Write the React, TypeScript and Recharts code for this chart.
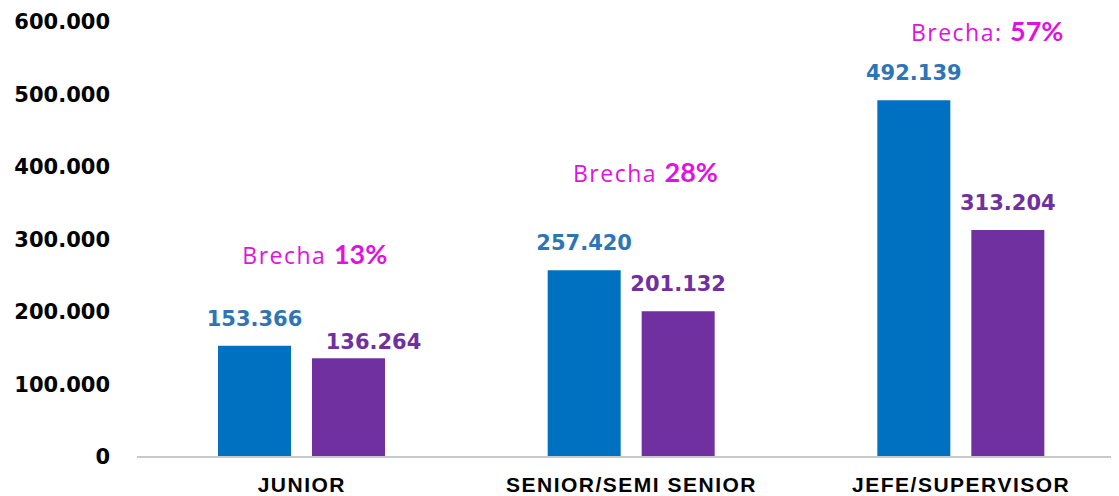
import React from 'react';
import { BarChart, Bar, XAxis, YAxis, LabelList, ReferenceDot } from 'recharts';

const categories = ['JUNIOR', 'SENIOR/SEMI SENIOR', 'JEFE/SUPERVISOR'];
const blueValues = [153366, 257420, 492139];
const purpleValues = [136264, 201132, 313204];
const gapPrefix = ['Brecha ', 'Brecha ', 'Brecha: '];
const gapValues = ['13%', '28%', '57%'];
const yTicks = [0, 100000, 200000, 300000, 400000, 500000, 600000];

const data = categories.map((name, i) => ({
  name,
  blue: blueValues[i],
  purple: purpleValues[i],
}));

const fmt = (n: number) => String(n).replace(/\B(?=(\d{3})+(?!\d))/g, '.');

const numFont = '"DejaVu Sans", sans-serif';

const ValueLabel = (color: string, shift: (i: number) => [number, number]) => (props: any) => {
  const { x, y, width, value, index } = props;
  const [dx, dy] = shift(index);
  return (
    <text
      x={x + width / 2 + dx}
      y={y - 20 + dy}
      textAnchor="middle"
      fill={color}
      fontFamily={numFont}
      fontWeight="bold"
      fontSize={21}
    >
      {fmt(value)}
    </text>
  );
};

const gapShape = (i: number, dx: number) => (props: any) => (
  <text x={props.cx + dx} y={props.cy} textAnchor="middle" fill="#DF13DF">
    <tspan fontFamily='"Open Sans", sans-serif' fontSize={23} letterSpacing={1.5}>
      {gapPrefix[i]}
    </tspan>
    <tspan fontFamily="Lato, sans-serif" fontSize={27} fontWeight="bold">
      {gapValues[i]}
    </tspan>
  </text>
);

export default function App() {
  return (
    <div style={{ width: 1111, height: 488, overflow: 'hidden' }}>
      <BarChart
        width={1120}
        height={488}
        data={data}
        margin={{ top: 14, right: 2, left: 0, bottom: 0 }}
        barSize={73}
        barGap={21}
      >
        <XAxis
          dataKey="name"
          height={39}
          tickLine={false}
          tickSize={0}
          tickMargin={20}
          axisLine={{ stroke: '#C8C8C8', strokeWidth: 2 }}
          tick={{
            fill: '#000',
            fontFamily: '"Liberation Sans", Arial, sans-serif',
            fontWeight: 'bold',
            fontSize: 21,
            letterSpacing: 1.5,
          }}
        />
        <YAxis
          width={129}
          domain={[0, 600000]}
          ticks={yTicks}
          interval={0}
          axisLine={false}
          tickLine={false}
          tickSize={0}
          tickMargin={27}
          tickFormatter={fmt}
          tick={{ fill: '#000', fontFamily: numFont, fontWeight: 'bold', fontSize: 21 }}
        />
        <Bar dataKey="blue" fill="#0070C0" isAnimationActive={false}>
          <LabelList dataKey="blue" content={ValueLabel('#2E75B6', () => [0, 0])} />
        </Bar>
        <Bar dataKey="purple" fill="#7030A0" isAnimationActive={false}>
          <LabelList
            dataKey="purple"
            content={ValueLabel('#7030A0', (i) => (i === 0 ? [25, 11] : [0, 0]))}
          />
        </Bar>
        <ReferenceDot x={categories[0]} y={266000} r={0} shape={gapShape(0, 13)} />
        <ReferenceDot x={categories[1]} y={379000} r={0} shape={gapShape(1, 14)} />
        <ReferenceDot x={categories[2]} y={574000} r={0} shape={gapShape(2, 26)} />
      </BarChart>
    </div>
  );
}
